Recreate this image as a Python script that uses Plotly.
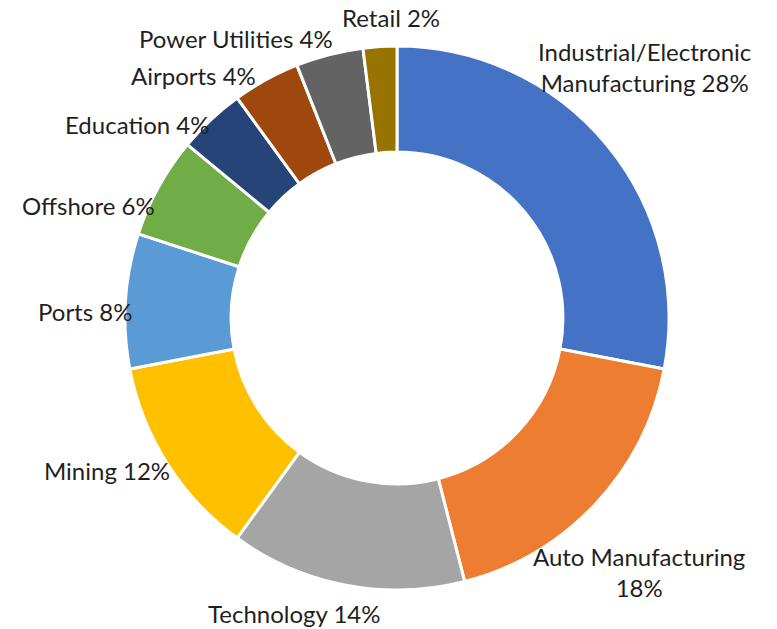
import plotly.graph_objects as go

# Share of installations by sector (percent)
sectors = [
    "Industrial/Electronic Manufacturing",
    "Auto Manufacturing",
    "Technology",
    "Mining",
    "Ports",
    "Offshore",
    "Education",
    "Airports",
    "Power Utilities",
    "Retail",
]
shares = [28, 18, 14, 12, 8, 6, 4, 4, 4, 2]

# Label text as displayed (line breaks for the two long names)
label_names = [
    "Industrial/Electronic<br>Manufacturing",
    "Auto Manufacturing<br>",
    "Technology",
    "Mining",
    "Ports",
    "Offshore",
    "Education",
    "Airports",
    "Power Utilities",
    "Retail",
]

colors = [
    "#4472C4", "#ED7D31", "#A5A5A5", "#FFC000", "#5B9BD5",
    "#70AD47", "#264478", "#9E480E", "#636363", "#997300",
]

# Label centres in pixels (x, y from top) on the 777 x 629 canvas
label_px = [
    (644, 67), (639, 572), (294, 613), (107, 470), (85, 311),
    (88, 205), (137, 125), (193, 75), (236, 38), (391, 18),
]

W, H = 777, 629
cx, cy, r = 397, 318, 272

fig = go.Figure(
    go.Pie(
        labels=sectors,
        values=shares,
        sort=False,
        direction="clockwise",
        rotation=0,
        hole=0.61,
        marker=dict(colors=colors, line=dict(color="white", width=3)),
        textinfo="none",
        hoverinfo="label+percent",
        showlegend=False,
        domain=dict(
            x=[(cx - r) / W, (cx + r) / W],
            y=[1 - (cy + r) / H, 1 - (cy - r) / H],
        ),
    )
)

for name, val, (px, py) in zip(label_names, shares, label_px):
    if name.endswith("<br>"):
        text = f"{name}{val}%"
    else:
        text = f"{name} {val}%"
    fig.add_annotation(
        x=px / W,
        y=1 - py / H,
        xref="paper",
        yref="paper",
        text=text,
        showarrow=False,
        xanchor="center",
        yanchor="middle",
        align="center",
        font=dict(family="Lato", size=24, color="#1f1f1f"),
    )

fig.update_layout(
    width=W,
    height=H,
    margin=dict(l=0, r=0, t=0, b=0),
    paper_bgcolor="white",
    plot_bgcolor="white",
)

fig.write_html("out.html")
